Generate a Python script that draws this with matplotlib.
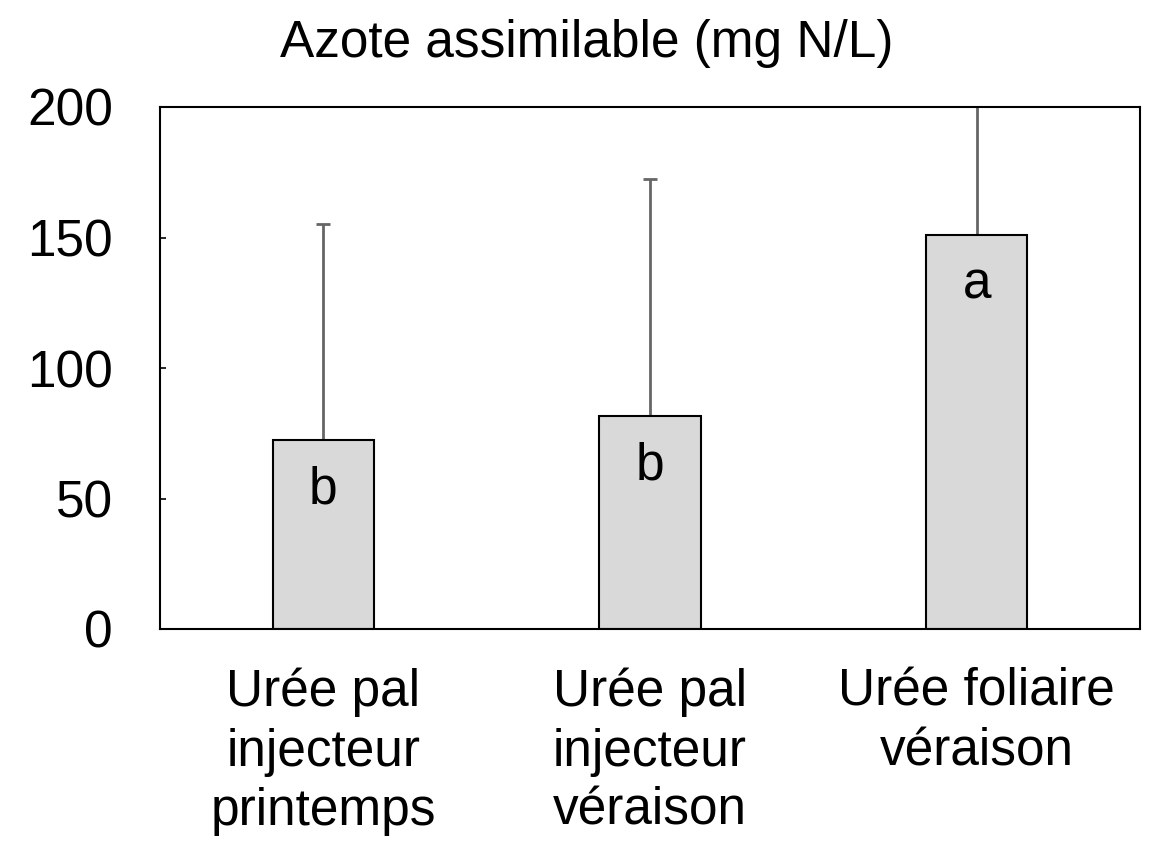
import matplotlib
matplotlib.use("Agg")
import matplotlib.pyplot as plt

plt.rcParams['font.family'] = ['Liberation Sans', 'DejaVu Sans']

categories = ["Urée pal\ninjecteur\nprintemps", "Urée pal\ninjecteur\nvéraison", "Urée foliaire\nvéraison"]
values = [72.3, 81.5, 151.0]
err_up = [83.0, 91.0, 65.0]
letters = ["b", "b", "a"]
yticks = [0, 50, 100, 150, 200]

fig = plt.figure(figsize=(11.53, 8.43), dpi=100)
ax = fig.add_axes([160/1153, 1-629/843, 980/1153, 522/843])

x = list(range(len(categories)))
ax.errorbar(x, values, yerr=[[0]*len(values), err_up], fmt='none',
            ecolor='#666666', elinewidth=2, capsize=5, capthick=2, zorder=1)
ax.bar(x, values, width=0.31, color='#d9d9d9', edgecolor='black', linewidth=1.5, zorder=2)

for xi, v, lab in zip(x, values, letters):
    ax.annotate(lab, (xi, v), xytext=(0, -36), textcoords='offset points',
                ha='center', va='center', fontsize=37, zorder=3)

ax.set_xlim(-0.5, 2.5)
ax.set_ylim(0, 200)
ax.set_yticks(yticks)
ax.set_xticks(x)
ax.set_xticklabels(categories, fontsize=37, linespacing=1.27)
ax.tick_params(axis='y', direction='in', length=4, width=1.2, pad=34, labelsize=37)
ax.tick_params(axis='x', length=0, pad=28)
for s in ax.spines.values():
    s.set_linewidth(1.5)

fig.text(0.509, 0.978, "Azote assimilable (mg N/L)", ha='center', va='top', fontsize=37)

fig.savefig("out.png", dpi=100)
